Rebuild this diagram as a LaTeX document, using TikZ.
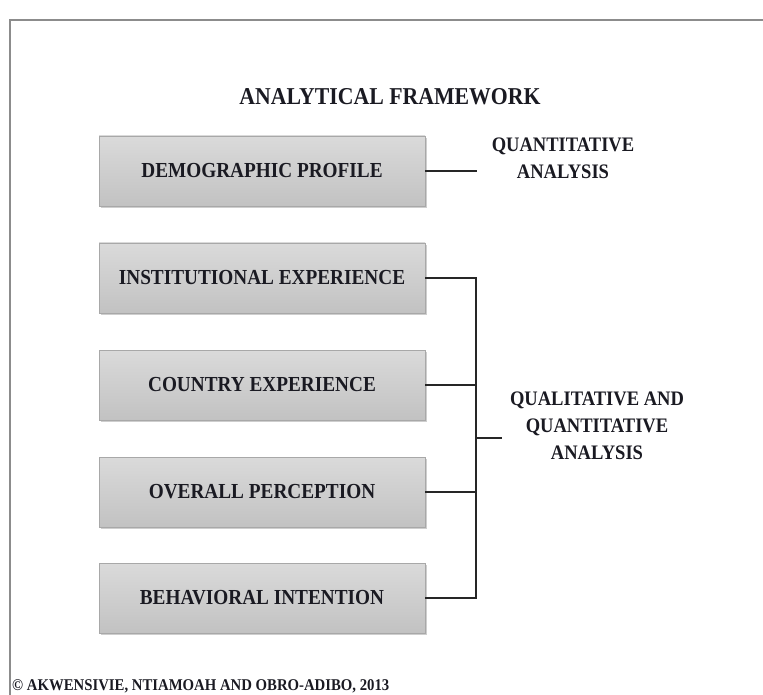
\documentclass[tikz,border=0pt]{standalone}
\usepackage{fontspec}
\setmainfont{Liberation Serif}
\newfontfamily\condserif[FakeStretch=0.9]{Liberation Serif}
\usetikzlibrary{shadows}
\definecolor{boxtop}{HTML}{DADADA}
\definecolor{boxbot}{HTML}{C2C2C2}
\definecolor{boxline}{HTML}{A8A8A8}
\definecolor{framegray}{HTML}{8C8C8C}
\definecolor{inkc}{HTML}{1A1A22}
\tikzset{
  factor/.style={rectangle, draw=boxline, line width=0.8pt, top color=boxtop, bottom color=boxbot,
    minimum width=326pt, minimum height=70pt, inner sep=0pt, text=inkc,
    font=\condserif\fontsize{21.4}{24}\selectfont\bfseries,
    drop shadow={shadow xshift=1.5pt, shadow yshift=-1.8pt, fill=gray!70, opacity=0.55}},
  label/.style={align=center, text=inkc, inner sep=0pt, font=\condserif\fontsize{20.6}{27}\selectfont\bfseries},
  link/.style={line width=1.4pt, draw=black!85}
}
\begin{document}
\begin{tikzpicture}[x=1pt,y=-1pt]
\useasboundingbox (0,0) rectangle (763,695);
\fill[white] (0,0) rectangle (763,695);
% frame
\draw[framegray, line width=1.6pt] (10,700) -- (10,20) -- (770,20);
% title
\node[text=inkc, inner sep=0pt, font=\condserif\fontsize{24.2}{26}\selectfont\bfseries] (title) at (390,97) {ANALYTICAL FRAMEWORK};
% boxes
\node[factor] (demo) at (262,171) {DEMOGRAPHIC PROFILE};
\node[factor] (inst) at (262,278) {INSTITUTIONAL EXPERIENCE};
\node[factor] (cty)  at (262,385) {COUNTRY EXPERIENCE};
\node[factor] (ovr)  at (262,492) {OVERALL PERCEPTION};
\node[factor] (beh)  at (262,598) {BEHAVIORAL INTENTION};
% labels
\node[label] (quant) at (563,158.5) {QUANTITATIVE\\ANALYSIS};
\node[label] (qual) at (597,426) {QUALITATIVE AND\\QUANTITATIVE\\ANALYSIS};
% connectors
\coordinate (dend) at (477,171);
\draw[link] (demo.east) -- (dend);
\coordinate (btop) at (476,278);
\coordinate (bbot) at (476,598);
\coordinate (bmid) at (476,438);
\coordinate (bstub) at (502,438);
\draw[link] (inst.east) -- (btop) -- (bbot) -- (beh.east);
\draw[link] (cty.east) -- (cty.east -| btop);
\draw[link] (ovr.east) -- (ovr.east -| btop);
\draw[link] (bmid) -- (bstub);
% footer
\node[anchor=base west, text=inkc, inner sep=0pt, font=\condserif\fontsize{16.4}{18}\selectfont\bfseries] (foot) at (12,690) {© AKWENSIVIE, NTIAMOAH AND OBRO-ADIBO, 2013};
\end{tikzpicture}
\end{document}
